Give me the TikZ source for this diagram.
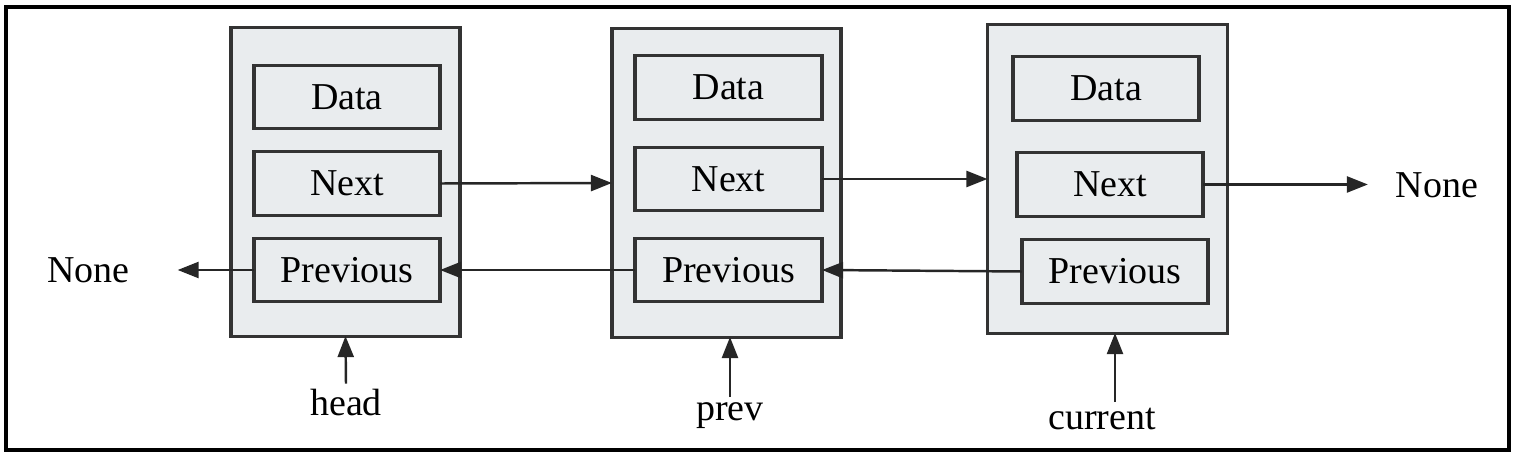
\documentclass[tikz,border=0pt]{standalone}
\usepackage{fontspec}
\setmainfont{Liberation Serif}
\usetikzlibrary{arrows.meta}

\definecolor{fondnoeud}{HTML}{E9ECEE}
\definecolor{traitnoeud}{HTML}{333333}

\tikzset{
noeud/.style={draw=traitnoeud, fill=fondnoeud, line width=0.9pt,
  minimum width=2.29cm, minimum height=3.08cm,
  inner sep=0pt, outer sep=0pt},
champ/.style={draw=traitnoeud, fill=fondnoeud, line width=0.9pt,
  minimum width=1.86cm, minimum height=0.635cm,
  inner sep=0pt, outer sep=0pt,
  font=\fontsize{10.8}{13}\selectfont},
etiq/.style={inner sep=1.5pt, font=\fontsize{10.8}{13}\selectfont},
fleche/.style={-{Triangle[length=2.1mm,width=1.6mm]}, line width=0.7pt, draw=black!85}
}

\begin{document}
\begin{tikzpicture}[x=0.01cm, y=-0.01cm]

\useasboundingbox
(0,0)
rectangle
(1517,455);

% Cadre
\draw[line width=1.3pt]
(6,7)
rectangle
(1509,450);

% Noeud 1
\node[noeud]
(n1) at (345.5,182) {};

\node[champ]
(d1) at (347,97) {Data};

\node[champ]
(nx1) at (347,183.5) {Next};

\node[champ]
(pv1) at (347,270) {Previous};

% Noeud 2
\node[noeud]
(n2) at (726.5,183) {};

\node[champ, minimum width=1.87cm]
(d2) at (728.5,87.5) {Data};

\node[champ, minimum width=1.87cm]
(nx2) at (728.5,179) {Next};

\node[champ, minimum width=1.87cm]
(pv2) at (728.5,270) {Previous};

% Noeud 3
\node[noeud, minimum width=2.40cm]
(n3) at (1107.5,179) {};

\node[champ]
(d3) at (1106,88.5) {Data};

\node[champ]
(nx3) at (1110,184.5) {Next};

\node[champ]
(pv3) at (1115,271.5) {Previous};

% None
\node[etiq]
(none1) at (88.5,270) {None};

\node[etiq]
(none2) at (1437,185) {None};

% Pointeurs
\node[etiq]
(head) at (346,403) {head};

\node[etiq]
(prev) at (730,416) {prev};

\node[etiq]
(courant) at (1102,419) {current};

% Flèches
\draw[fleche]
(nx1.east)
--
(n2.west);

\draw[fleche]
(nx2.east)
--
(n3.west);

\draw[fleche, shorten >=0.22cm]
(nx3.east)
--
(none2.west |- nx3.east);

\draw[fleche]
(pv3.west)
--
(pv2.east);

\draw[fleche]
(pv2.west)
--
(pv1.east);

\draw[fleche, shorten >=0.42cm]
(pv1.west)
--
(none1.east |- pv1.west);

\draw[fleche]
(head.north)
--
(n1.south);

\draw[fleche]
(prev.north)
--
(prev.north |- n2.south);

\draw[fleche]
([xshift=0.13cm]courant.north)
--
([xshift=0.13cm]courant.north |- n3.south);

\end{tikzpicture}
\end{document}
